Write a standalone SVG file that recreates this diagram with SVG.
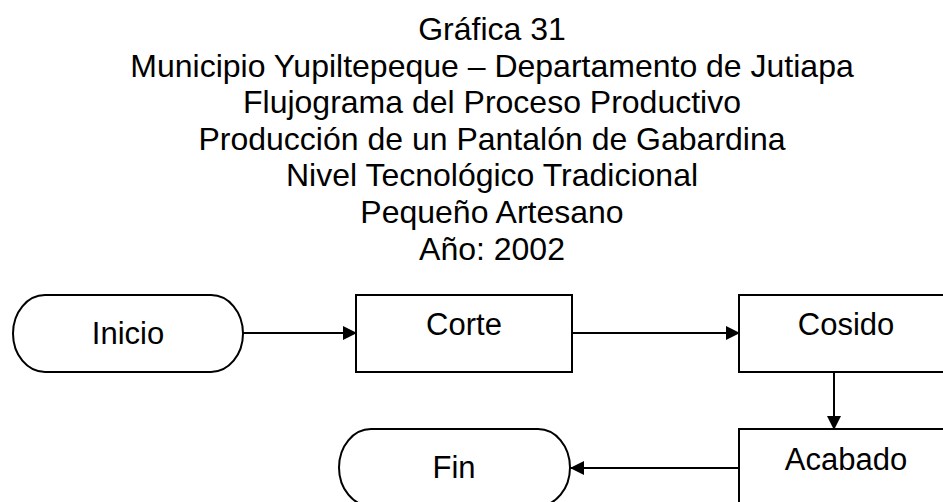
<svg xmlns="http://www.w3.org/2000/svg" width="943" height="502" viewBox="0 0 943 502">
<style>
.t{font-family:"Liberation Sans",Arial,sans-serif;font-size:32px;fill:#000;text-anchor:middle}
.n{font-family:"Liberation Sans",Arial,sans-serif;font-size:31px;fill:#000;text-anchor:middle}
.s{fill:#fff;stroke:#000;stroke-width:2}
.c{fill:none;stroke:#000;stroke-width:2}
</style>
<defs>
<marker id="ah" markerWidth="14" markerHeight="14" refX="13" refY="7" orient="auto" markerUnits="userSpaceOnUse">
<path d="M0,0 L14,7 L0,14 Z" fill="#000"/>
</marker>
</defs>
<rect width="943" height="502" fill="#fff"/>
<g id="title">
<text class="t" x="492" y="40">Gráfica 31</text>
<text class="t" x="492" y="77">Municipio Yupiltepeque – Departamento de Jutiapa</text>
<text class="t" x="492" y="113">Flujograma del Proceso Productivo</text>
<text class="t" x="492" y="150">Producción de un Pantalón de Gabardina</text>
<text class="t" x="492" y="186">Nivel Tecnológico Tradicional</text>
<text class="t" x="492" y="223">Pequeño Artesano</text>
<text class="t" x="492" y="260">Año: 2002</text>
</g>
<g id="inicio">
<rect class="s" x="13" y="295" width="230" height="77" rx="32" ry="38.5"/>
<text class="n" x="128" y="344">Inicio</text>
</g>
<g id="corte">
<rect class="s" x="356" y="295" width="216" height="77"/>
<text class="n" x="464" y="335">Corte</text>
</g>
<g id="cosido">
<rect class="s" x="739" y="295" width="216" height="77"/>
<text class="n" x="846" y="335">Cosido</text>
</g>
<g id="acabado">
<rect class="s" x="739" y="429" width="216" height="77"/>
<text class="n" x="846" y="470">Acabado</text>
</g>
<g id="fin">
<rect class="s" x="339" y="429" width="231" height="77" rx="32" ry="38.5"/>
<text class="n" x="454" y="478">Fin</text>
</g>
<g id="connectors">
<line class="c" x1="243" y1="333" x2="356" y2="333" marker-end="url(#ah)"/>
<line class="c" x1="572" y1="333" x2="739" y2="333" marker-end="url(#ah)"/>
<line class="c" x1="834" y1="372" x2="834" y2="429" marker-end="url(#ah)"/>
<line class="c" x1="739" y1="468" x2="571" y2="468" marker-end="url(#ah)"/>
</g>
</svg>
